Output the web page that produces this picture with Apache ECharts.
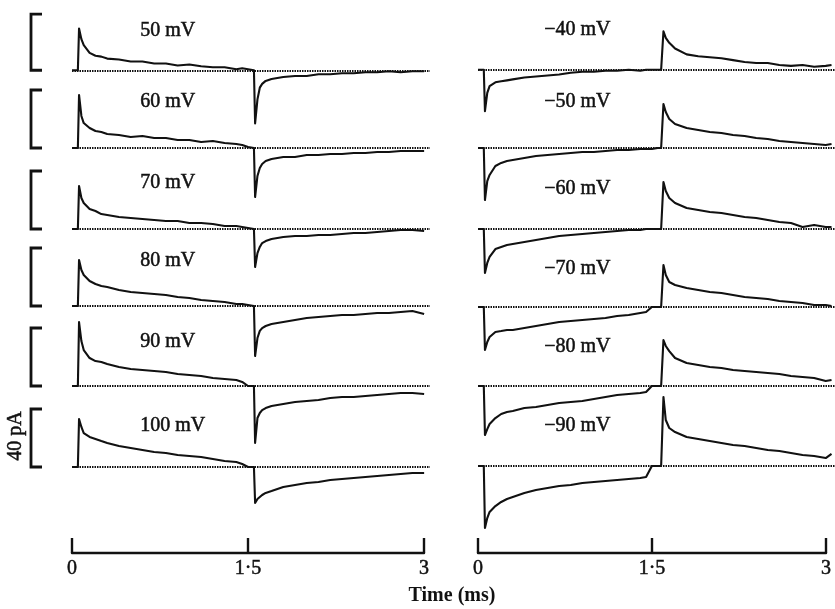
<!DOCTYPE html>
<html>
<head>
<meta charset="utf-8">
<script src="https://cdn.jsdelivr.net/npm/echarts@6/dist/echarts.min.js"></script>
<style>
  html, body { margin: 0; padding: 0; background: #fff; }
  #chart { width: 835px; height: 609px; }
</style>
</head>
<body>
<div id="chart"></div>
<script>
// ---------- DATA ----------
// time samples (ms)
const timeMs = [0, 0.05, 0.06, 0.08, 0.1, 0.15, 0.2, 0.25, 0.3, 0.4, 0.5, 0.6, 0.7, 0.8, 0.9, 1.0, 1.1, 1.2, 1.3, 1.4, 1.45, 1.5, 1.55, 1.56, 1.58, 1.6, 1.62, 1.65, 1.7, 1.8, 1.9, 2.0, 2.1, 2.2, 2.3, 2.4, 2.5, 2.6, 2.7, 2.8, 2.9, 3.0, 3.05];

// currents (pA), depolarizing steps (left column)
const cur50  = [0,0,29.7,22.1,17.9,12.4,10.3,9.7,8.3,7.6,6.2,6.2,4.8,4.8,3.4,4.1,2.8,2.1,2.1,0.7,1.4,0.7,0,-37.9,-20.7,-12.4,-9.7,-7.6,-6.2,-4.8,-4.1,-4.1,-2.8,-2.8,-2.1,-2.1,-1.4,-1.4,-0.7,-1.4,-0.7,-0.7,null];
const cur60  = [0,0,36.6,22.1,17.2,13.8,11.7,11.0,9.7,9.0,7.6,8.3,6.9,6.9,5.5,5.5,4.1,4.8,3.4,2.8,2.1,0.7,0,-33.8,-19.3,-13.8,-11.0,-9.0,-7.6,-6.2,-6.2,-4.8,-4.8,-4.1,-4.1,-3.4,-3.4,-2.8,-2.8,-2.1,-2.1,-2.1,null];
const cur70  = [0,0,29.7,21.4,17.9,13.8,12.4,10.3,9.7,8.3,7.6,6.9,6.2,5.5,5.5,4.1,4.1,3.4,2.1,2.1,1.4,0.7,0,-26.2,-16.6,-12.4,-9.7,-8.3,-6.9,-5.5,-4.8,-4.8,-4.1,-4.1,-3.4,-2.8,-2.8,-2.1,-1.4,-0.7,-0.7,-1.4,null];
const cur80  = [0,0,31.7,24.8,21.4,17.2,15.2,13.8,13.1,11.0,9.7,9.0,8.3,7.6,6.2,5.5,4.1,3.4,2.8,1.4,1.4,0.7,0,-34.5,-22.1,-17.2,-15.2,-13.8,-12.4,-11.0,-9.7,-8.3,-7.6,-6.9,-6.2,-6.2,-5.5,-4.8,-4.8,-4.1,-3.4,-5.5,null];
const cur90  = [0,0,44.1,31.0,24.8,19.3,17.2,16.6,15.2,13.1,11.7,11.0,10.3,9.7,8.3,7.6,6.9,5.5,4.8,4.1,2.8,0,0,-39.3,-22.1,-18.6,-16.6,-15.2,-13.8,-12.4,-11.0,-10.3,-9.7,-8.3,-7.6,-7.6,-6.9,-6.2,-5.5,-4.8,-4.8,-5.5,null];
const cur100 = [0,0,33.1,27.6,23.4,20.7,19.3,17.9,16.6,14.5,13.1,11.7,10.3,9.7,8.3,7.6,6.9,5.5,4.1,3.4,2.1,0,0,-24.8,-22.1,-20.7,-19.3,-17.9,-16.6,-13.8,-12.4,-11.0,-10.3,-9.0,-8.3,-7.6,-6.9,-6.2,-5.5,-4.8,-4.1,-4.1,null];

// currents (pA), hyperpolarizing steps (right column)
const curM40 = [0,0,-29.7,-16.6,-11.7,-9.0,-8.3,-7.6,-6.9,-5.5,-4.8,-4.1,-3.4,-2.1,-1.4,-1.4,-0.7,-0.7,0,-0.7,0,0,0,0,0,27.6,22.8,19.3,15.2,11.0,9.7,9.0,8.3,6.9,5.5,4.8,4.8,3.4,2.8,3.4,2.1,2.8,3.4];
const curM50 = [0,0,-35.9,-22.8,-18.6,-12.4,-10.3,-9.0,-8.3,-6.9,-5.5,-4.8,-4.1,-3.4,-2.8,-2.8,-2.1,-1.4,-1.4,-0.7,-0.7,-0.7,0,0,0,30.3,24.8,20.0,16.6,13.8,12.4,11.0,10.3,9.0,8.3,6.9,6.2,4.8,4.1,3.4,2.8,2.1,2.8];
const curM60 = [0,0,-30.3,-23.4,-19.3,-13.8,-12.4,-11.0,-10.3,-9.0,-7.6,-6.2,-4.8,-4.1,-3.4,-2.8,-2.1,-1.4,-0.7,-0.7,0,0,0,0,0,32.4,26.2,21.4,17.9,14.5,13.1,11.7,11.0,9.7,8.3,7.6,6.2,4.8,4.1,1.4,2.8,1.4,1.4];
const curM70 = [0,0,-29.7,-24.1,-20.7,-17.2,-16.6,-15.9,-15.9,-14.5,-13.1,-11.7,-10.3,-9.7,-9.0,-8.3,-7.6,-6.2,-5.5,-4.1,-3.4,0,0,0,0,29.0,22.1,17.2,15.2,13.1,11.7,10.3,9.7,8.3,6.9,6.2,5.5,4.1,3.4,2.8,1.4,1.4,0.7];
const curM80 = [0,0,-33.8,-29.7,-26.2,-22.1,-19.3,-17.9,-17.2,-15.2,-14.5,-13.1,-11.7,-11.0,-10.3,-9.0,-7.6,-6.2,-5.5,-4.8,-4.1,0,0,0,0,31.7,27.6,24.1,19.3,15.9,14.5,13.1,12.4,11.0,10.3,9.7,9.0,8.3,6.9,6.2,5.5,3.4,4.1];
const curM90 = [0,0,-42.8,-35.9,-31.7,-27.6,-24.8,-22.8,-21.4,-18.6,-16.6,-15.2,-13.8,-13.1,-11.7,-11.0,-10.3,-9.7,-9.0,-8.3,-7.6,0,0,0,0,47.6,31.7,26.2,23.4,20.0,18.6,17.2,15.9,14.5,13.8,12.4,11.0,10.3,9.0,7.6,6.9,5.5,8.3];

const leftLabels  = ['50 mV', '60 mV', '70 mV', '80 mV', '90 mV', '100 mV'];
const rightLabels = ['\u221240 mV', '\u221250 mV', '\u221260 mV', '\u221270 mV', '\u221280 mV', '\u221290 mV'];
const leftTraces  = [cur50, cur60, cur70, cur80, cur90, cur100];
const rightTraces = [curM40, curM50, curM60, curM70, curM80, curM90];
const tickValues = [0, 1.5, 3];
const tickLabels = ['0', '1\u00b75', '3'];
const scaleBarPA = 40;
const scaleBarLabel = '40 pA';
const xAxisTitle = 'Time (ms)';

// ---------- LAYOUT ----------
const leftBase  = [68, 148, 229, 306, 386, 467];
const rightBase = [67, 148, 229, 307, 386, 466];
const leftLabelY  = [31, 102, 183, 261, 342, 426];
const rightLabelY = [30, 102, 189, 269, 347, 426];
const YR = 50, GH = 145;
const FONT = '"Liberation Serif", "DejaVu Serif", serif';
const INK = '#111';

const grids = [], xAxes = [], yAxes = [], series = [];
function addTrace(left, width, xmax, base, data) {
  const gi = grids.length;
  grids.push({ left: left, width: width, top: base - GH / 2, height: GH });
  xAxes.push({ type: 'value', gridIndex: gi, min: 0, max: xmax, show: false });
  yAxes.push({ type: 'value', gridIndex: gi, min: -YR, max: YR, show: false });
  series.push({
    type: 'line', xAxisIndex: gi, yAxisIndex: gi,
    data: timeMs.map((t, k) => [t, data[k]]),
    symbol: 'none', connectNulls: false, clip: true,
    lineStyle: { color: INK, width: 2.1, join: 'round' },
    markLine: {
      silent: true, symbol: ['none', 'none'], label: { show: false },
      lineStyle: { type: [1.5, 1], color: INK, width: 1.8 },
      data: [{ yAxis: 0 }]
    }
  });
  return gi;
}
for (let i = 0; i < 6; i++) addTrace(72, 358, 3.05, leftBase[i], leftTraces[i]);
for (let i = 0; i < 6; i++) addTrace(478, 357, 3.08, rightBase[i], rightTraces[i]);

function addAxis(left, width) {
  const gi = grids.length;
  grids.push({ left: left, width: width, top: 450, height: 103 });
  xAxes.push({
    type: 'value', gridIndex: gi, min: 0, max: 3, interval: 1.5,
    axisLine: { show: true, lineStyle: { color: INK, width: 2.4 } },
    axisTick: { show: true, inside: true, length: 15, lineStyle: { color: INK, width: 2.4 } },
    splitLine: { show: false },
    axisLabel: {
      margin: 6, color: INK, fontFamily: FONT, fontSize: 20,
      textBorderColor: INK, textBorderWidth: 0.5,
      formatter: v => { const k = tickValues.indexOf(v); return k >= 0 ? tickLabels[k] : ''; }
    }
  });
  yAxes.push({ type: 'value', gridIndex: gi, show: false, min: 0, max: 1 });
}
addAxis(72, 352);
addAxis(478, 348);

const txt = (s) => ({ text: s, font: '20px ' + FONT, fill: INK, stroke: INK, lineWidth: 0.5 });
const graphics = [];
leftLabels.forEach((s, i) => graphics.push({
  type: 'text', left: 140, top: leftLabelY[i] - 11, style: txt(s)
}));
rightLabels.forEach((s, i) => graphics.push({
  type: 'text', left: 544, top: rightLabelY[i] - 11, style: txt(s)
}));
graphics.push({
  type: 'text', x: 452, y: 596,
  style: { text: xAxisTitle, font: 'bold 20px ' + FONT, fill: INK, textAlign: 'center', textVerticalAlign: 'middle' }
});
graphics.push({
  type: 'text', x: 16, y: 436, rotation: Math.PI / 2,
  style: Object.assign(txt(scaleBarLabel), { textAlign: 'center', textVerticalAlign: 'middle' })
});

const chart = echarts.init(document.getElementById('chart'), null, { renderer: 'canvas' });
chart.setOption({
  animation: false,
  backgroundColor: '#fff',
  grid: grids, xAxis: xAxes, yAxis: yAxes, series: series,
  graphic: graphics
});

// scale brackets (40 pA) for each left-column trace, placed through the y scales
const brackets = [];
for (let i = 0; i < 6; i++) {
  const y0 = chart.convertToPixel({ gridIndex: i }, [0, 0])[1];
  const y1 = chart.convertToPixel({ gridIndex: i }, [0, scaleBarPA])[1];
  brackets.push({
    type: 'polyline',
    shape: { points: [[42, y1], [31, y1], [31, y0], [42, y0]] },
    style: { stroke: INK, lineWidth: 2.8, fill: null }
  });
}
chart.setOption({ graphic: graphics.concat(brackets) });
</script>
</body>
</html>
